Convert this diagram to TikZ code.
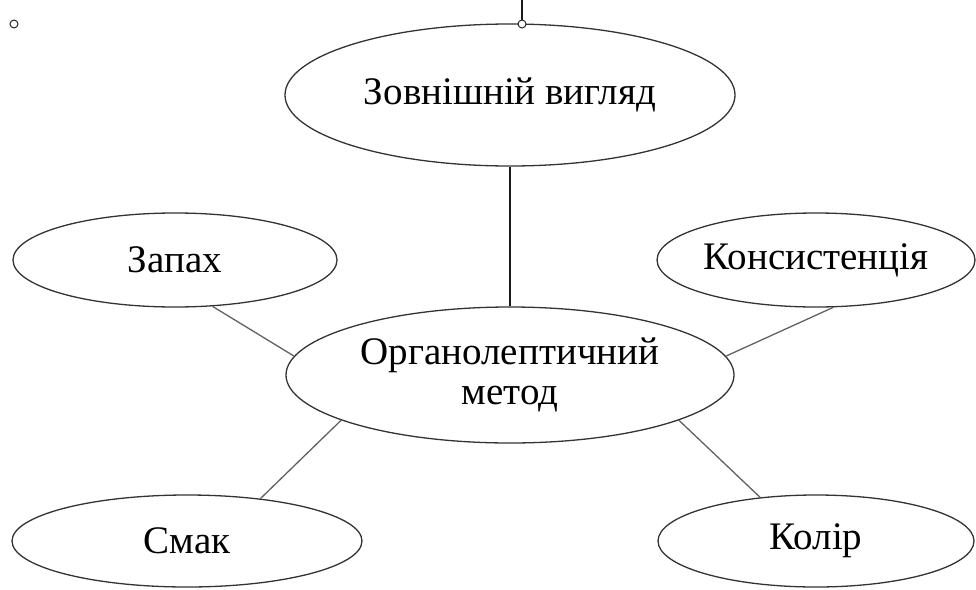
\documentclass[tikz,border=0pt]{standalone}
\usepackage{fontspec}
\setmainfont{Liberation Serif}
\usetikzlibrary{shapes.geometric}
\begin{document}
\begin{tikzpicture}[x=1pt,y=-1pt,
  oval/.style={ellipse, draw=black!80, line width=1.3pt, inner sep=0pt, align=center,
    font=\fontsize{39}{40}\selectfont},
  link/.style={draw=black!62, line width=1.3pt},
  handle/.style={circle, draw=black!85, fill=white, line width=1pt, inner sep=0pt, minimum size=8pt}]
\useasboundingbox (0,0) rectangle (976,589);
\node[oval, minimum width=450pt, minimum height=142pt] (top) at (510,95) {Зовнішній вигляд};
\node[oval, minimum width=448pt, minimum height=136pt] (org) at (510,375) {Органолептичний\\метод};
\node[oval, minimum width=324pt, minimum height=94pt] (zap) at (175,260) {Запах};
\node[oval, minimum width=316pt, minimum height=94pt] (kon) at (816,260) {Консистенція};
\node[oval, minimum width=350pt, minimum height=92pt] (smak) at (187,541) {Смак};
\node[oval, minimum width=316pt, minimum height=92pt] (kol) at (816,541) {Колір};
\draw[black!90, line width=1.3pt] (top.south) -- (org.north);
\draw[link] (zap.-51) -- (org.175);
\draw[link] (kon.-70) -- (org.5);
\draw[link] (smak.30) -- (org.195);
\draw[link] (kol.142) -- (org.345);
\coordinate (topedge) at (522,0);
\node[handle] (h1) at (522,24) {};
\node[handle] (h2) at (14,24) {};
\draw[black!90, line width=1.2pt] (topedge) -- (h1.north);
\end{tikzpicture}
\end{document}
